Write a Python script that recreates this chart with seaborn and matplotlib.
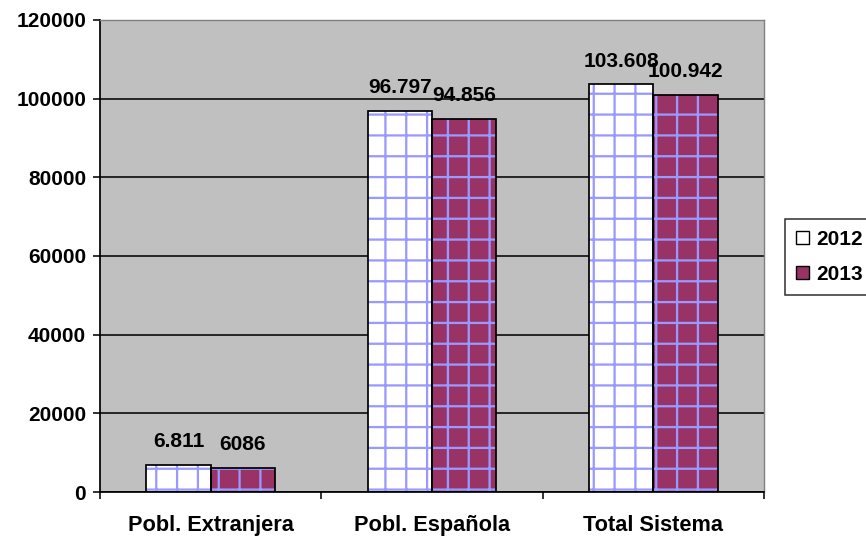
import matplotlib
matplotlib.use("Agg")
import matplotlib.pyplot as plt
import matplotlib.patches as mpatches
import pandas as pd
import seaborn as sns

categories = ["Pobl. Extranjera", "Pobl. Española", "Total Sistema"]
years = ["2012", "2013"]
v2012 = [6811, 96797, 103608]
v2013 = [6086, 94856, 100942]
labels2012 = ["6.811", "96.797", "103.608"]
labels2013 = ["6086", "94.856", "100.942"]
yticks = [0, 20000, 40000, 60000, 80000, 100000, 120000]

sns.set_theme(style="white")
plt.rcParams['font.family'] = ['Liberation Sans', 'DejaVu Sans']
plt.rcParams['font.weight'] = 'bold'
plt.rcParams['text.color'] = 'black'
plt.rcParams['xtick.color'] = 'black'
plt.rcParams['ytick.color'] = 'black'
plt.rcParams['hatch.linewidth'] = 1.3

df = pd.DataFrame({
    "cat": categories * 2,
    "year": [years[0]] * 3 + [years[1]] * 3,
    "val": v2012 + v2013,
})

fig = plt.figure(figsize=(6.928, 4.32), dpi=125)
ax = fig.add_axes([100/866, 1 - 492/540, 664/866, 472/540])
ax.set_facecolor("#C0C0C0")

colors = {"2012": "white", "2013": "#993366"}
sns.barplot(data=df, x="cat", y="val", hue="year", palette=colors,
            width=0.58, ax=ax, legend=False, saturation=1)

# hatch in light blue, black outline drawn on top
for cont, labs in zip(ax.containers, [labels2012, labels2013]):
    for bar in cont:
        bar.set_hatch("+")
        bar.set_edgecolor("#9999FF")
        bar.set_linewidth(0)
        ax.add_patch(mpatches.Rectangle(bar.get_xy(), bar.get_width(), bar.get_height(),
                                        fill=False, edgecolor="black", linewidth=1.0, zorder=3))
    ax.bar_label(cont, labels=labs, padding=8, fontsize=12, fontweight="bold", color="black")

ax.set_ylim(0, 120000)
ax.set_xlim(-0.5, 2.5)
ax.set_yticks(yticks)
ax.set_yticklabels([str(t) for t in yticks], fontsize=12, fontweight="bold")
ax.yaxis.grid(True, color="black", linewidth=0.9)
ax.set_axisbelow(True)
ax.tick_params(axis="y", left=True, length=4, width=0.9, color="black", pad=4)
ax.tick_params(axis="x", which="major", length=0, pad=13, labelsize=12.5)
ax.set_xticks([-0.5, 0.5, 1.5, 2.5], minor=True)
ax.tick_params(axis="x", which="minor", bottom=True, length=4, width=0.9, color="black")
for lab in ax.get_xticklabels():
    lab.set_fontweight("bold")
ax.set_xlabel("")
ax.set_ylabel("")

for s in ["left", "bottom"]:
    ax.spines[s].set_color("black")
    ax.spines[s].set_linewidth(1.0)
for s in ["top", "right"]:
    ax.spines[s].set_color("#808080")
    ax.spines[s].set_linewidth(0.8)

handles = [mpatches.Patch(facecolor=colors[y], edgecolor="black", linewidth=0.8, label=y) for y in years]
leg = fig.legend(handles=handles, loc="center left", bbox_to_anchor=(785/866, 1 - 257/540),
                 frameon=True, fancybox=False, edgecolor="black", fontsize=12,
                 handlelength=0.6, handleheight=0.6, handletextpad=0.35, borderpad=0.55,
                 labelspacing=0.75, borderaxespad=0)
leg.get_frame().set_linewidth(0.9)
for t in leg.get_texts():
    t.set_fontweight("bold")

fig.savefig("out.png", dpi=125)
